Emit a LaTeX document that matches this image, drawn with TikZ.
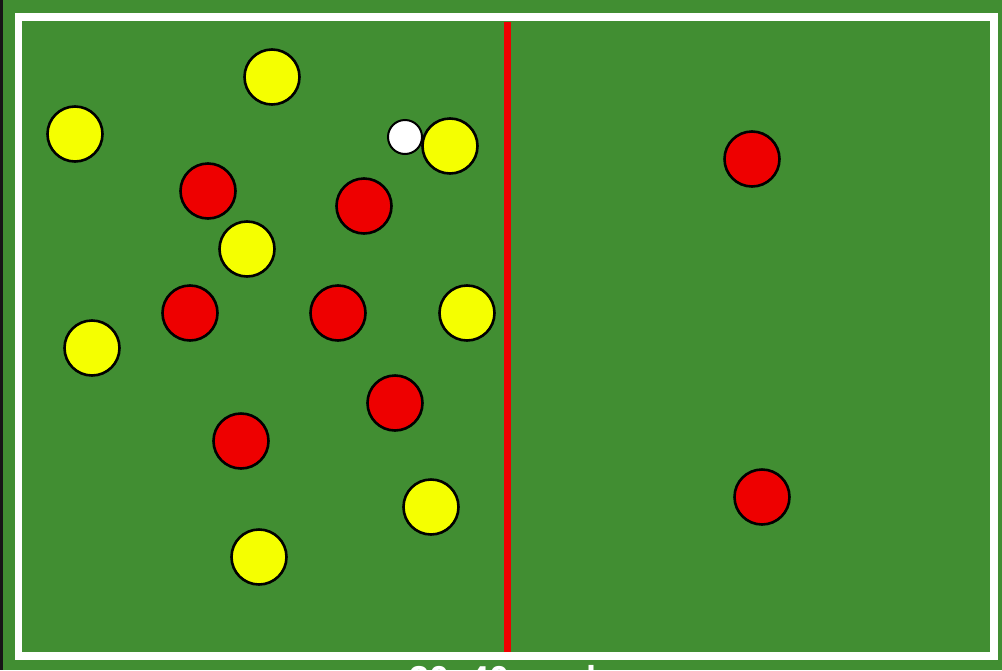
\documentclass[tikz,border=0pt]{standalone}
\usepackage{fontspec}
\setmainfont{Liberation Sans}
\definecolor{pitch}{HTML}{418E32}
\definecolor{ply}{HTML}{F5FF00}
\definecolor{plr}{HTML}{EE0000}
\definecolor{strip}{HTML}{161616}
\begin{document}
\begin{tikzpicture}[x=1pt,y=-1pt,
  yel/.style={circle,draw=black,line width=2.6pt,fill=ply,minimum size=55pt,inner sep=0pt},
  red/.style={circle,draw=black,line width=2.6pt,fill=plr,minimum size=55pt,inner sep=0pt},
  ball/.style={circle,draw=black,line width=2pt,fill=white,minimum size=34pt,inner sep=0pt}]
\useasboundingbox (0,0) rectangle (1002,670);
\fill[pitch] (0,0) rectangle (1002,670);
\fill[strip] (0,0) rectangle (3,670);
\draw[white,line width=7.5pt] (18.5,17) rectangle (994,656);
\coordinate (lt) at (507.5,22);
\coordinate (lb) at (507.5,652);
\draw[plr,line width=7pt] (lt) -- (lb);
\node[yel] (y1) at (272,77) {};
\node[yel] (y2) at (75,134) {};
\node[yel] (y3) at (450,146) {};
\node[yel] (y4) at (247,249) {};
\node[yel] (y5) at (467,313) {};
\node[yel] (y6) at (92,348) {};
\node[yel] (y7) at (431,507) {};
\node[yel] (y8) at (259,557) {};
\node[red] (r1) at (208,191) {};
\node[red] (r2) at (364,206) {};
\node[red] (r3) at (190,313) {};
\node[red] (r4) at (338,313) {};
\node[red] (r5) at (395,403) {};
\node[red] (r6) at (241,441) {};
\node[red] (r7) at (752,159) {};
\node[red] (r8) at (762,497) {};
\node[ball] (b) at (405,137) {};
\node[anchor=base,text=white,font=\fontsize{36}{40}\selectfont\bfseries,inner sep=0pt] (t) at (513,691) {30x40 yards};
\end{tikzpicture}
\end{document}
